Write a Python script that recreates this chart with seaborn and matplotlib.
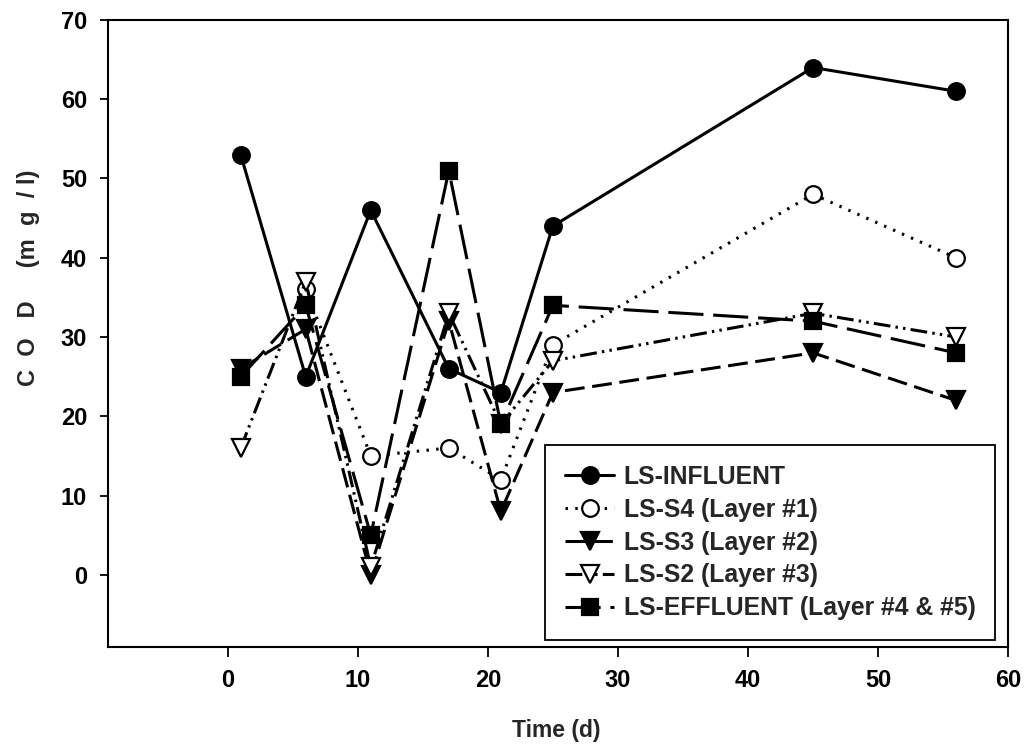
import numpy as np
import matplotlib
matplotlib.use("Agg")
import matplotlib.pyplot as plt
import seaborn as sns

# ── data ─────────────────────────────────────────────────────────────────────
days = [1, 6, 11, 17, 21, 25, 45, 56]

influent = [53, 25, 46, 26, 23, 44, 64, 61]
s4_layer1 = [np.nan, 36, 15, 16, 12, 29, 48, 40]
s3_layer2 = [26, 31, 0, 32, 8, 23, 28, 22]
s2_layer3 = [16, 37, 1, 33, 19, 27, 33, 30]
effluent = [25, 34, 5, 51, 19, 34, 32, 28]

labels = ["LS-INFLUENT", "LS-S4 (Layer #1)", "LS-S3 (Layer #2)",
          "LS-S2 (Layer #3)", "LS-EFFLUENT (Layer #4 & #5)"]

x_ticks = [0, 10, 20, 30, 40, 50, 60]
y_ticks = [0, 10, 20, 30, 40, 50, 60, 70]

# ── style ────────────────────────────────────────────────────────────────────
sns.set_style("ticks")
plt.rcParams['font.family'] = ['Liberation Sans', 'DejaVu Sans']
plt.rcParams['font.weight'] = 'bold'
plt.rcParams['axes.labelweight'] = 'bold'

# marker, face colour, marker size, line style (dash units scale with lw)
series = [
    (influent,  'o', 'black', 12, '-'),
    (s4_layer1, 'o', 'white', 12, (0, (0.8, 2.4))),
    (s3_layer2, 'v', 'black', 13, (0, (6.5, 2.5))),
    (s2_layer3, 'v', 'white', 13, (0, (5.5, 1.7, 0.8, 1.7, 0.8, 1.7))),
    (effluent,  's', 'black', 11, (0, (11.5, 3.2))),
]

fig = plt.figure(figsize=(10.24, 7.53), dpi=100)
ax = fig.add_axes([0.1055, 0.1408, 0.879, 0.8327])

x_arr = np.array(days, dtype=float)
for (vals, mk, fc, ms, ls), lab in zip(series, labels):
    y = np.array(vals, dtype=float)
    ok = ~np.isnan(y)
    sns.lineplot(x=x_arr[ok], y=y[ok], ax=ax, color='black', marker=mk,
                 markersize=ms, markerfacecolor=fc,
                 markeredgecolor='black', markeredgewidth=1.6,
                 linestyle=ls, linewidth=2.2, label=lab)

ax.set_xlim(-9.2, 60)
ax.set_ylim(-9.1, 70)
ax.set_xticks(x_ticks)
ax.set_yticks(y_ticks)
ax.tick_params(axis='both', direction='out', width=1.3,
               labelsize=17, colors='black')
ax.tick_params(axis='x', length=7, pad=9)
ax.tick_params(axis='y', length=6, pad=9)
for lab in ax.get_xticklabels() + ax.get_yticklabels():
    lab.set_fontweight('bold')
for sp in ax.spines.values():
    sp.set_visible(True)
    sp.set_color('black')
    sp.set_linewidth(1.5)

ax.set_xlabel("Time (d)", fontsize=16.5, fontweight='bold')
ax.set_ylabel("C  O   D     (m  g  / l)", fontsize=17, fontweight='bold')
ax.xaxis.set_label_coords(0.498, -0.115)
ax.yaxis.set_label_coords(-0.076, 0.589)

leg = ax.legend(loc='lower right', bbox_to_anchor=(0.9856, 0.011),
                borderaxespad=0, frameon=True, fancybox=False, framealpha=1,
                edgecolor='black', fontsize=17.8, handlelength=2.0,
                labelspacing=0.36, borderpad=0.8, handletextpad=0.37)
leg.get_frame().set_linewidth(1.3)
for t in leg.get_texts():
    t.set_fontweight('bold')

fig.savefig("out.png", dpi=100)
